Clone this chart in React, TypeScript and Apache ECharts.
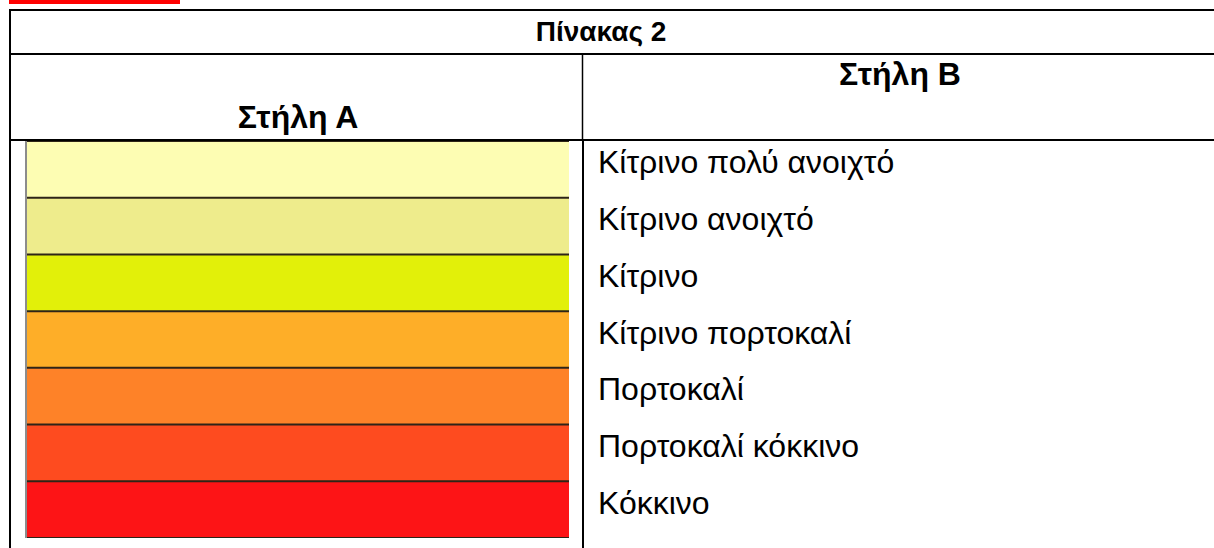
import React, { useEffect, useRef } from "react";
import * as echarts from "echarts";

const rowLabels = [
  "Κίτρινο πολύ ανοιχτό",
  "Κίτρινο ανοιχτό",
  "Κίτρινο",
  "Κίτρινο πορτοκαλί",
  "Πορτοκαλί",
  "Πορτοκαλί κόκκινο",
  "Κόκκινο",
];
const rowColors = ["#FDFDB3", "#EEEC8C", "#E2F009", "#FEAE28", "#FE8228", "#FE4B1F", "#FD1416"];
const rowValues = [1, 1, 1, 1, 1, 1, 1];
const titleText = "Πίνακας 2";
const colAText = "Στήλη Α";
const colBText = "Στήλη Β";

const FONT = "'Liberation Sans', Arial, sans-serif";

export default function App() {
  const ref = useRef<HTMLDivElement>(null);
  useEffect(() => {
    if (!ref.current) return;
    const chart = echarts.init(ref.current, undefined, { renderer: "svg" });
    const W = 1214;
    const lineStyle = { stroke: "#000", lineWidth: 2 };
    chart.setOption({
      animation: false,
      backgroundColor: "#ffffff",
      grid: {
        left: 27,
        top: 141,
        width: 542,
        height: 397,
        show: true,
        backgroundColor: "#2e2418",
        borderWidth: 0,
        containLabel: false,
      },
      xAxis: { type: "value", min: 0, max: 1, show: false },
      yAxis: {
        type: "category",
        data: rowLabels,
        inverse: true,
        position: "right",
        axisLine: { show: false },
        axisTick: { show: false },
        splitLine: { show: false },
        axisLabel: {
          margin: 29,
          align: "left",
          verticalAlign: "bottom",
          lineHeight: 14,
          fontSize: 32,
          color: "#000",
          fontFamily: FONT,
        },
      },
      series: [
        {
          type: "bar",
          barCategoryGap: 2,
          data: rowValues.map((v, i) => ({ value: v, itemStyle: { color: rowColors[i] } })),
          silent: true,
        },
      ],
      graphic: [
        { type: "rect", shape: { x: 9, y: 0, width: 171, height: 4 }, style: { fill: "#ff0000" } },
        { type: "line", shape: { x1: 9, y1: 10, x2: W, y2: 10 }, style: lineStyle },
        { type: "line", shape: { x1: 10, y1: 9, x2: 10, y2: 548 }, style: lineStyle },
        { type: "line", shape: { x1: 9, y1: 54, x2: W, y2: 54 }, style: lineStyle },
        { type: "line", shape: { x1: 9, y1: 140, x2: W, y2: 140 }, style: lineStyle },
        { type: "line", shape: { x1: 582.5, y1: 54, x2: 582.5, y2: 140 }, style: { stroke: "#000", lineWidth: 1.5 } },
        { type: "line", shape: { x1: 583, y1: 140, x2: 583, y2: 548 }, style: lineStyle },
        { type: "rect", shape: { x: 25, y: 141, width: 2, height: 397 }, style: { fill: "#8c8c8c" } },
        {
          type: "text",
          x: 601,
          y: 31,
          style: { text: titleText, font: `bold 28px ${FONT}`, fill: "#000", align: "center", verticalAlign: "middle" },
        },
        {
          type: "text",
          x: 900,
          y: 74,
          style: { text: colBText, font: `bold 32px ${FONT}`, fill: "#000", align: "center", verticalAlign: "middle" },
        },
        {
          type: "text",
          x: 298,
          y: 117,
          style: { text: colAText, font: `bold 32px ${FONT}`, fill: "#000", align: "center", verticalAlign: "middle" },
        },
      ],
    });
    return () => chart.dispose();
  }, []);
  return <div ref={ref} style={{ position: "absolute", left: 0, top: 0, width: 1214, height: 548 }} />;
}
